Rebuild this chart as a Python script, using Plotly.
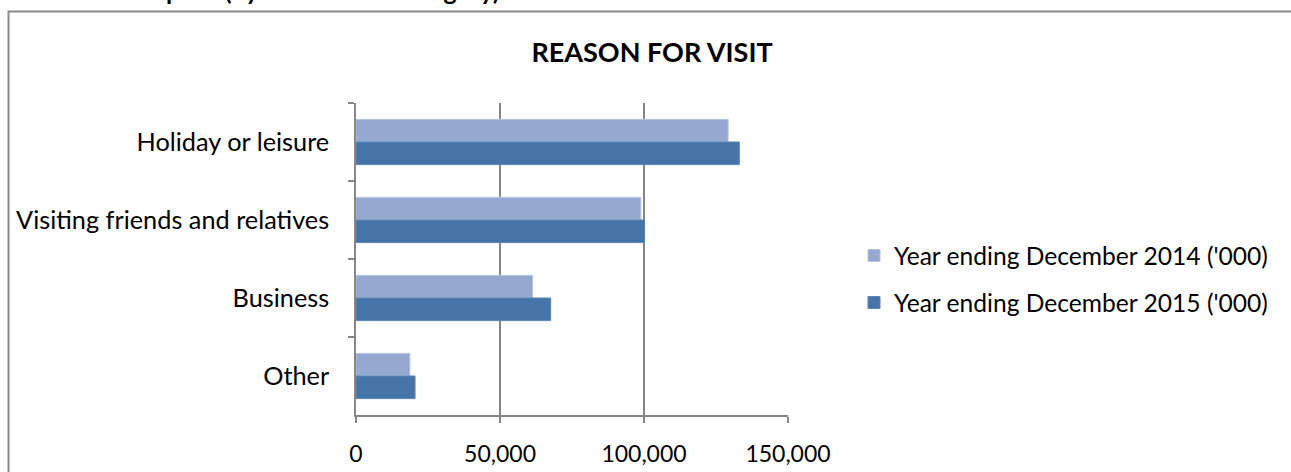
import plotly.graph_objects as go

categories = ["Holiday or leisure", "Visiting friends and relatives", "Business", "Other"]
series_2014 = [129200, 98900, 61300, 18700]
series_2015 = [133100, 100200, 67600, 20500]
series_names = ["Year ending December 2014 ('000)", "Year ending December 2015 ('000)"]
x_ticks = [0, 50000, 100000, 150000]
x_tick_labels = ["0", "50,000", "100,000", "150,000"]

W, H = 1291, 472
L, R, T, B = 356, 788, 103, 415
FONT = "Lato"


def px_x(p):
    return (p - L) / (R - L)


def px_y(p):
    return (B - p) / (B - T)


fig = go.Figure()
fig.add_trace(go.Bar(
    y=categories, x=series_2014, orientation="h", name=series_names[0],
    marker=dict(color="#95A9D0", line=dict(color="#B4C4E0", width=1)),
    legendgroup="a",
))
fig.add_trace(go.Bar(
    y=categories, x=series_2015, orientation="h", name=series_names[1],
    marker=dict(color="#4674A8", line=dict(color="#5A86B8", width=1)),
    legendgroup="b",
))

fig.update_layout(
    width=W, height=H,
    margin=dict(l=L, r=W - R, t=T, b=H - B, pad=0, autoexpand=False),
    paper_bgcolor="white", plot_bgcolor="white",
    barmode="group", bargap=0.42, bargroupgap=0,
    font=dict(family=FONT, size=23, color="#000000"),
    showlegend=True,
    legend=dict(
        xref="container", yref="container",
        x=854 / W, y=1 - 233 / H, xanchor="left", yanchor="top",
        font=dict(family=FONT, size=24.6, color="#000000"),
        tracegroupgap=12, itemwidth=30,
        bgcolor="rgba(0,0,0,0)",
    ),
    xaxis=dict(
        range=[0, 150000], tickvals=x_ticks, ticktext=x_tick_labels,
        showgrid=True, gridcolor="#868686", gridwidth=1.5,
        showline=True, linecolor="#868686", linewidth=1.5,
        ticks="outside", ticklen=6, tickcolor="#868686", tickwidth=1.5,
        ticklabelstandoff=12, automargin=False,
        zeroline=False, fixedrange=True,
        tickfont=dict(family=FONT, size=23, color="#000000"),
    ),
    yaxis=dict(
        autorange="reversed", showgrid=False,
        showline=True, linecolor="#868686", linewidth=1.5,
        ticks="outside", ticklen=6, tickcolor="#868686", tickwidth=1.5,
        tickson="boundaries", ticklabelstandoff=20, automargin=False,
        tickfont=dict(family=FONT, size=25.3, color="#000000"),
    ),
    title=dict(
        text="<b>REASON FOR VISIT</b>", x=652 / W, xanchor="center",
        y=1 - 53 / H, yanchor="middle",
        font=dict(family=FONT, size=27, color="#000000"),
    ),
)

# outer frame
fig.add_shape(type="rect", xref="paper", yref="paper",
              x0=px_x(8.5), x1=px_x(1310), y0=px_y(11.5), y1=px_y(490),
              line=dict(color="#888888", width=2), fillcolor="rgba(0,0,0,0)",
              layer="below")

# heading text above the frame, clipped by the page top as in the source
fig.add_annotation(xref="paper", yref="paper", x=px_x(30), y=px_y(7),
                   xanchor="left", yanchor="bottom", showarrow=False,
                   text="<b>Chart 2: Purpose (by visit reason category)</b>",
                   font=dict(family=FONT, size=25, color="#000000"))

fig.write_html("out.html")
